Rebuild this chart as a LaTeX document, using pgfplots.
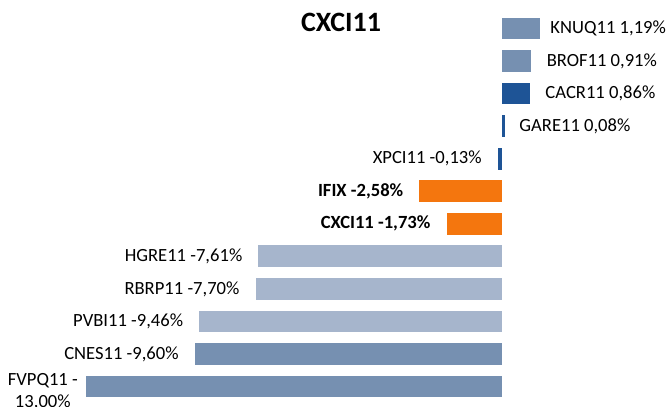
\documentclass[border=0pt]{standalone}
\usepackage{pgfplots}
\pgfplotsset{compat=1.18}
\usepackage{fontspec}
\setmainfont{Carlito}
\definecolor{steel}{RGB}{118,144,177}
\definecolor{lightsteel}{RGB}{166,181,204}
\definecolor{darkblue}{RGB}{30,84,150}
\definecolor{orange1}{RGB}{244,118,14}
\pgfplotsset{
  posl/.style={nodes near coords={#1}, every node near coord/.append style={anchor=east, xshift=126bp}},
  negl/.style={nodes near coords={#1}, every node near coord/.append style={anchor=east, xshift=-16bp}},
}
\begin{document}
\begin{tikzpicture}[x=1bp,y=1bp]
\useasboundingbox (0,0) rectangle (667,406);
\begin{axis}[at={(0,0)}, anchor=south west, scale only axis,
  width=667bp, height=406bp,
  xmin=-15.6875, xmax=5.15625, ymin=-0.5992, ymax=11.8756,
  hide axis, clip=false,
  xbar, bar width=21.7bp, bar shift=0pt,
  every node near coord/.append style={font=\fontsize{18.6bp}{22bp}\selectfont, text=black, inner sep=0pt},
]
\addplot[fill=steel, draw=none, posl={KNUQ11 1,19\%}] coordinates {(1.19,11)};
\addplot[fill=steel, draw=none, posl={BROF11 0,91\%}] coordinates {(0.91,10)};
\addplot[fill=darkblue, draw=none, posl={CACR11 0,86\%}] coordinates {(0.86,9)};
\addplot[fill=darkblue, draw=none, posl={GARE11 0,08\%}] coordinates {(0.08,8)};
\addplot[fill=darkblue, draw=none, negl={XPCI11 -0,13\%}] coordinates {(-0.13,7)};
\addplot[fill=orange1, draw=none, negl={\bfseries IFIX -2,58\%}] coordinates {(-2.58,6)};
\addplot[fill=orange1, draw=none, negl={\bfseries CXCI11 -1,73\%}] coordinates {(-1.73,5)};
\addplot[fill=lightsteel, draw=none, negl={HGRE11 -7,61\%}] coordinates {(-7.61,4)};
\addplot[fill=lightsteel, draw=none, negl={RBRP11 -7,70\%}] coordinates {(-7.70,3)};
\addplot[fill=lightsteel, draw=none, negl={PVBI11 -9,46\%}] coordinates {(-9.46,2)};
\addplot[fill=steel, draw=none, negl={CNES11 -9,60\%}] coordinates {(-9.60,1)};
\addplot[fill=steel, draw=none, nodes near coords={FVPQ11 -\\13,00\%},
  every node near coord/.append style={align=center, anchor=east, xshift=-8bp, yshift=-5.5bp}] coordinates {(-13.00,0)};
\end{axis}
\node[font=\bfseries\fontsize{28bp}{30bp}\selectfont, inner sep=0pt] at (341,383.5) {CXCI11};
\end{tikzpicture}
\end{document}
